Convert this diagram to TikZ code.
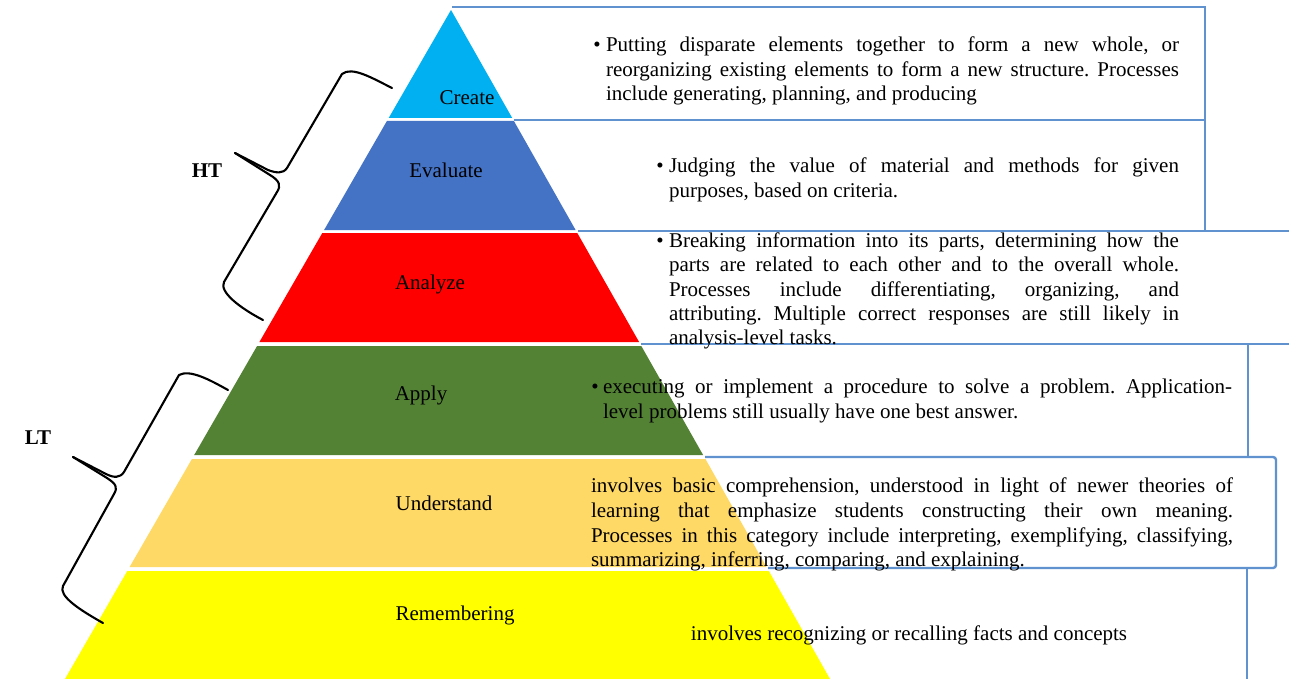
\documentclass[tikz,border=0pt]{standalone}
\usepackage{fontspec}
\setmainfont{Liberation Serif}
\definecolor{boxline}{RGB}{95,146,206}
\definecolor{ccreate}{HTML}{00B0F0}
\definecolor{cevaluate}{HTML}{4472C4}
\definecolor{canalyze}{HTML}{FF0000}
\definecolor{capply}{HTML}{548235}
\definecolor{cunderstand}{HTML}{FFD966}
\definecolor{cremember}{HTML}{FFFF00}
\newcommand{\jline}[2]{\makebox[#1pt][s]{#2}}
\frenchspacing
\begin{document}
\begin{tikzpicture}[x=1pt,y=-1pt,
  every node/.style={inner sep=0pt,outer sep=0pt,font=\fontsize{21}{24.5}\selectfont},
  txt/.style={anchor=base west},
  lbl/.style={anchor=base},
  bul/.style={anchor=base},
  boxstroke/.style={draw=boxline,line width=2.4pt},
  brace/.style={draw=black,line width=2.1pt,line cap=round,line join=round}]
\useasboundingbox (0,0) rectangle (1289,679);
\fill[white] (0,0) rectangle (1289,679);

% box outlines
\draw[boxstroke] (452,7) -- (1205,7) -- (1205,231);
\draw[boxstroke] (514,120) -- (1205,120);
\draw[boxstroke] (578,231) -- (1289,231);
\draw[boxstroke] (641,344) -- (1289,344);
\draw[boxstroke] (1248,344) -- (1248,457);
\draw[boxstroke,rounded corners=3pt] (705,457) -- (1276,457) -- (1276,568) -- (768,568);
\draw[boxstroke] (1247,568) -- (1247,679);

% pyramid layers
\fill[ccreate] (451,10) -- (512.2,118) -- (388.7,118) -- cycle;
\fill[cevaluate] (386.9,121) -- (513.9,121) -- (575.6,230) -- (324.1,230) -- cycle;
\fill[canalyze] (322.3,233) -- (577.3,233) -- (639.1,342) -- (259.4,342) -- cycle;
\fill[capply] (257.1,346) -- (641.3,346) -- (703.1,455) -- (194.2,455) -- cycle;
\fill[cunderstand] (191.9,459) -- (705.4,459) -- (766.5,567) -- (129.6,567) -- cycle;
\fill[cremember] (127.3,571) -- (768.8,571) -- (830,679) -- (65,679) -- cycle;

% layer labels
\node[lbl] (lcreate) at (467,105) {Create};
\node[lbl] (levaluate) at (446,178) {Evaluate};
\node[lbl] (lanalyze) at (430,289) {Analyze};
\node[lbl] (lapply) at (421,400) {Apply};
\node[lbl] (lunderstand) at (444,510) {Understand};
\node[lbl] (lremember) at (455,620) {Remembering};

% HT / LT
\node[lbl,font=\fontsize{21}{24.5}\selectfont\bfseries] (ht) at (207,178) {HT};
\node[lbl,font=\fontsize{21}{24.5}\selectfont\bfseries] (lt) at (38,444) {LT};

% braces
\draw[brace] (392,88) .. controls (372,78) and (352,66) .. (342,74) -- (287,168)
  .. controls (283,174) and (276,173) .. (268,170) -- (235,153);
\draw[brace] (235,153) -- (270,175) .. controls (280,181) and (281,186) .. (277,192)
  -- (224,282) .. controls (219,292) and (240,308) .. (263,320);
\draw[brace] (228,390) .. controls (210,380) and (190,369) .. (179,375) -- (124,472)
  .. controls (120,478) and (114,478) .. (106,474) -- (73,457);
\draw[brace] (73,457) -- (107,478) .. controls (116,484) and (118,487) .. (114,494)
  -- (63,586) .. controls (58,596) and (80,610) .. (103,623);

% box 1
\node[bul] (b1) at (597,52) {•};
\node[txt] (t1a) at (606,52) {\jline{573}{Putting disparate elements together to form a new whole, or}};
\node[txt] (t1b) at (606,77) {\jline{573}{reorganizing existing elements to form a new structure. Processes}};
\node[txt] (t1c) at (606,101) {include generating, planning, and producing};

% box 2
\node[bul] (b2) at (660,172) {•};
\node[txt] (t2a) at (669,172) {\jline{510}{Judging the value of material and methods for given}};
\node[txt] (t2b) at (669,197) {purposes, based on criteria.};

% box 3
\node[bul] (b3) at (660,247) {•};
\node[txt] (t3a) at (669,247) {\jline{510}{Breaking information into its parts, determining how the}};
\node[txt] (t3b) at (669,271) {\jline{510}{parts are related to each other and to the overall whole.}};
\node[txt] (t3c) at (669,296) {\jline{510}{Processes include differentiating, organizing, and}};
\node[txt] (t3d) at (669,320) {\jline{510}{attributing. Multiple correct responses are still likely in}};
\node[txt] (t3e) at (669,344) {analysis-level tasks.};

% box 4
\node[bul] (b4) at (595,393) {•};
\node[txt] (t4a) at (603,393) {\jline{629}{executing or implement a procedure to solve a problem. Application-}};
\node[txt] (t4b) at (603,418) {level problems still usually have one best answer.};

% box 5
\node[txt] (t5a) at (591,492) {\jline{642}{involves basic comprehension, understood in light of newer theories of}};
\node[txt] (t5b) at (591,517) {\jline{642}{learning that emphasize students constructing their own meaning.}};
\node[txt] (t5c) at (591,542) {\jline{642}{Processes in this category include interpreting, exemplifying, classifying,}};
\node[txt] (t5d) at (591,566) {summarizing, inferring, comparing, and explaining.};

% box 6
\node[lbl] (t6) at (909,640) {involves recognizing or recalling facts and concepts};
\end{tikzpicture}
\end{document}
